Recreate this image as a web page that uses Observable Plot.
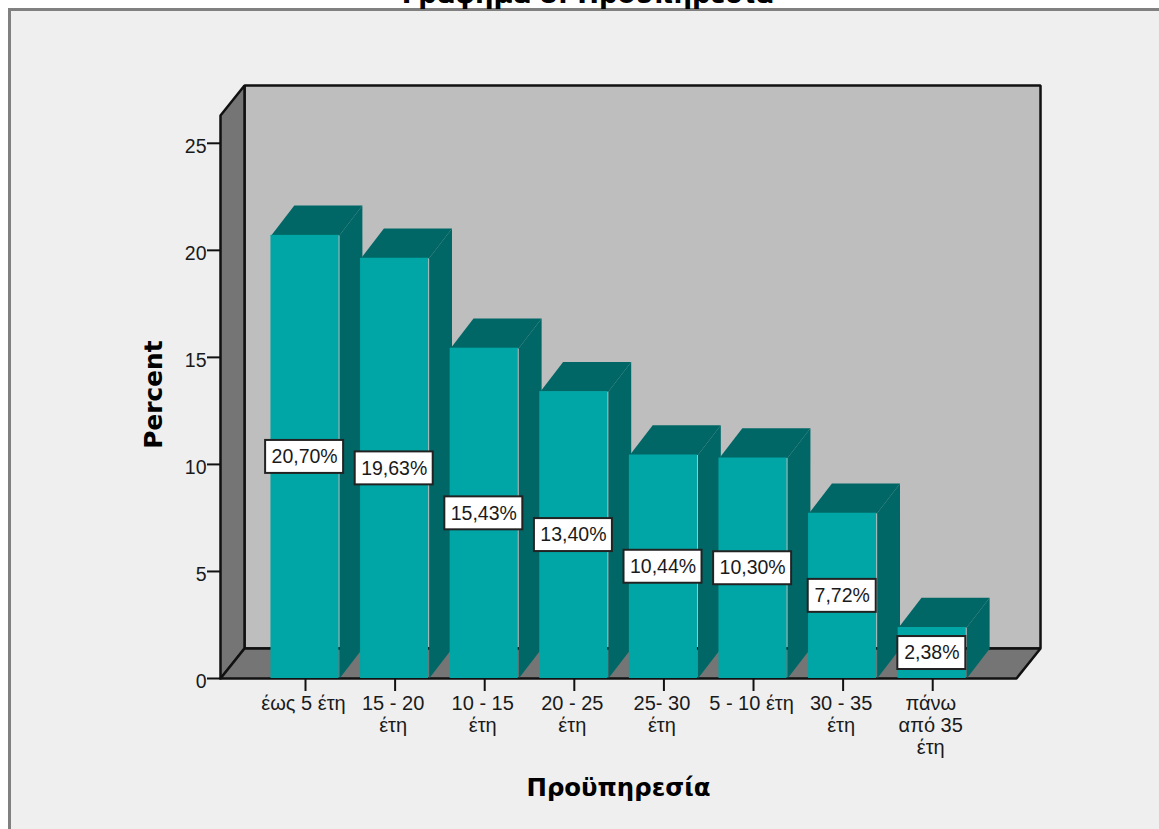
<!DOCTYPE html>
<html><head><meta charset="utf-8">
<script src="https://cdn.jsdelivr.net/npm/d3@7"></script>
<script src="https://cdn.jsdelivr.net/npm/@observablehq/plot@0.6"></script>
<style>
html,body{margin:0;padding:0;background:#fff;overflow:hidden}
#wrap{position:relative;width:1159px;height:829px;overflow:hidden}
#panel{position:absolute;left:8px;top:8px;width:1151px;height:821px;box-sizing:border-box;background:#efefef;border-left:3px solid #808080;border-top:3px solid #808080}
#wrap svg{position:absolute;left:0;top:0;display:block;background:transparent}
</style></head><body>
<div id="wrap"><div id="panel"></div></div>
<script>
const categories = ["έως 5 έτη","15 - 20\nέτη","10 - 15\nέτη","20 - 25\nέτη","25- 30\nέτη","5 - 10 έτη","30 - 35\nέτη","πάνω\nαπό 35\nέτη"];
const percents = [20.70,19.63,15.43,13.40,10.44,10.30,7.72,2.38];
const labels = ["20,70%","19,63%","15,43%","13,40%","10,44%","10,30%","7,72%","2,38%"];
const yTicks = [0,5,10,15,20,25];
const title = "Γράφημα 8: Προϋπηρεσία";
const xTitle = "Προϋπηρεσία";
const yTitle = "Percent";

const colors = {front:"#00a6a6", shade:"#006766", wall:"#bebebe", side:"#757575", line:"#111111"};
const halfBar = 0.38, depthX = 0.255, depthY = 1.39;
const xL = -0.4487, xR = 8.435, wallX = 0.268, wallY = 1.4, wallTop = 26.3;

const polygon = (id, pts) => pts.concat([pts[0]]).map(([x,y]) => ({id,x,y}));
const bars = percents.map((v,i) => ({i, c:i+0.5, v, label:labels[i]}));

const walls = polygon("back", [[xL+wallX,wallY],[xL+wallX,wallTop+wallY],[xR+wallX,wallTop+wallY],[xR+wallX,wallY]]);
const sides = [
  ...polygon("left", [[xL,0],[xL,wallTop],[xL+wallX,wallTop+wallY],[xL+wallX,wallY]]),
  ...polygon("floor", [[xL,0],[xL+wallX,wallY],[xR+wallX,wallY],[xR,0]])
];
const barSides = bars.flatMap(b => polygon("s"+b.i, [[b.c+halfBar,0],[b.c+halfBar,b.v],[b.c+halfBar+depthX,b.v+depthY],[b.c+halfBar+depthX,depthY]]));
const barTops = bars.flatMap(b => polygon("t"+b.i, [[b.c-halfBar,b.v],[b.c-halfBar+depthX,b.v+depthY],[b.c+halfBar+depthX,b.v+depthY],[b.c+halfBar,b.v]]));
const poly = {x:"x", y:"y", z:"id", curve:"linear"};
const labelHalf = b => (b.label.length > 5 ? 39 : 34) / 89.6;
const font = "'Liberation Sans', Arial, sans-serif";
const boldFont = "'DejaVu Sans', Verdana, sans-serif";

const chart = Plot.plot({
  width:1159, height:829,
  marginLeft:220, marginRight:143, marginTop:85, marginBottom:151,
  style:{background:"transparent", fontFamily:font, overflow:"hidden"},
  x:{domain:[xL,xR]},
  y:{domain:[0,27.7]},
  marks:[
    Plot.line(walls,{...poly, fill:colors.wall, stroke:colors.line, strokeWidth:2.5, strokeLinejoin:"miter"}),
    Plot.line(sides,{...poly, fill:colors.side, stroke:colors.line, strokeWidth:2.5, strokeLinejoin:"miter"}),
    Plot.line(barSides,{...poly, fill:colors.shade}),
    Plot.line(barTops,{...poly, fill:colors.shade}),
    Plot.rect(bars,{x1:b=>b.c-halfBar, x2:b=>b.c+halfBar, y1:0, y2:"v", fill:colors.front, dx:-0.5}),
    Plot.axisY({ticks:yTicks, tickSize:13, text:null, label:null, stroke:colors.line, strokeWidth:2}),
    Plot.axisY({ticks:yTicks, tickSize:0, tickPadding:14, dy:3, fontSize:19.5, label:null, fill:"#1a1a1a"}),
    Plot.axisX({ticks:bars.map(b=>b.c), tickSize:13, text:null, label:null, stroke:colors.line, strokeWidth:2}),
    Plot.axisX({ticks:bars.map(b=>b.c), tickFormat:(d,i)=>categories[i], tickSize:0, tickPadding:16, dx:-2, fontSize:20, lineHeight:1.1, label:null, fill:"#1a1a1a"}),
    Plot.rect(bars,{x1:b=>b.c-labelHalf(b)-0.01, x2:b=>b.c+labelHalf(b)-0.01, y1:b=>b.v/2-0.77, y2:b=>b.v/2+0.77, fill:"#ffffff", stroke:"#222222", strokeWidth:2}),
    Plot.text(bars,{x:b=>b.c-0.01, y:b=>b.v/2, text:"label", fontSize:19.5, fill:"#1a1a1a"}),
    Plot.text([xTitle],{frameAnchor:"bottom", text:d=>d, dy:117, fontSize:24.4, fontWeight:"bold", fontFamily:boldFont, fill:"#000"}),
    Plot.text([yTitle],{frameAnchor:"left", textAnchor:"middle", text:d=>d, dx:-66, dy:12.5, rotate:-90, fontSize:24.8, fontWeight:"bold", fontFamily:boldFont, fill:"#000"}),
    Plot.text([title],{frameAnchor:"top", text:d=>d, dx:-31, dy:-101, fontSize:26, fontWeight:"bold", fontFamily:boldFont, fill:"#000"})
  ]
});
document.getElementById("wrap").appendChild(chart);
</script>
</body></html>
